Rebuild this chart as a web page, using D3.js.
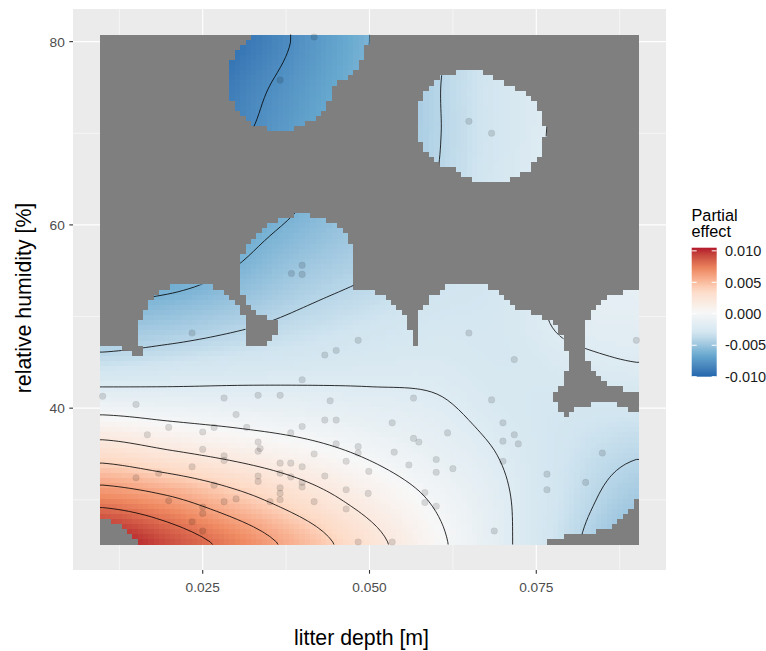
<!DOCTYPE html>
<html><head><meta charset="utf-8">
<script src="https://cdn.jsdelivr.net/npm/d3@7"></script>
<style>
body{margin:0;background:#fff}
svg{display:block}
text{font-family:"Liberation Sans",Arial,Helvetica,sans-serif}
</style>
</head><body>
<svg id="chart" width="766" height="651"></svg>
<script>
// ---- data ----
const gridDepth = [0.01, 0.02, 0.03, 0.04, 0.05, 0.06, 0.07, 0.08, 0.09];
const gridHumidity = [25, 30, 35, 40, 45, 50, 55, 60, 65, 70, 75, 80];
const effect25 = [0.0110, 0.0092, 0.0074, 0.0052, 0.0027, 0.0004, -0.0017, -0.0037, -0.0055];
const effect30 = [0.0073, 0.0063, 0.0047, 0.0030, 0.0013, -0.0002, -0.0018, -0.0034, -0.0047];
const effect35 = [0.0032, 0.0023, 0.0015, 0.0007, -0.0002, -0.0011, -0.0021, -0.0032, -0.0039];
const effect40 = [-0.0005, -0.0008, -0.0010, -0.0012, -0.0015, -0.0018, -0.0025, -0.0029, -0.0030];
const effect45 = [-0.0035, -0.0032, -0.0029, -0.0027, -0.0025, -0.0024, -0.0027, -0.0023, -0.0020];
const effect50 = [-0.0054, -0.0051, -0.0045, -0.0038, -0.0033, -0.0029, -0.0027, -0.0017, -0.0015];
const effect55 = [-0.0072, -0.0068, -0.0059, -0.0048, -0.0041, -0.0034, -0.0028, -0.0018, -0.0012];
const effect60 = [-0.0088, -0.0078, -0.0067, -0.0057, -0.0047, -0.0037, -0.0027, -0.0017, -0.0009];
const effect65 = [-0.0100, -0.0088, -0.0075, -0.0063, -0.0051, -0.0040, -0.0027, -0.0016, -0.0007];
const effect70 = [-0.0111, -0.0097, -0.0083, -0.0069, -0.0055, -0.0041, -0.0028, -0.0016, -0.0006];
const effect75 = [-0.0118, -0.0104, -0.0087, -0.0073, -0.0058, -0.0041, -0.0028, -0.0017, -0.0007];
const effect80 = [-0.0120, -0.0107, -0.0093, -0.0077, -0.0060, -0.0042, -0.0029, -0.0018, -0.0008];
const effectRows = [effect25, effect30, effect35, effect40, effect45, effect50, effect55, effect60, effect65, effect70, effect75, effect80];

const pointDepth = [0.0366,0.0417,0.0649,0.0683,0.0383,0.0399,0.0399,
 0.0234,0.0483,0.0450,0.0433,0.0399,0.0100,0.0282,0.0333,0.0366,0.0150,0.0441,0.0300,0.0199,0.0250,
 0.0267,0.0316,0.0399,0.0433,0.0450,0.0167,0.0382,0.0333,0.0336,0.0333,0.0250,0.0282,0.0282,0.0450,
 0.0483,0.0483,0.0417,0.0465,0.0366,0.0382,0.0399,0.0234,0.0184,0.0150,0.0333,0.0333,0.0366,0.0382,
 0.0399,0.0399,0.0433,0.0267,0.0366,0.0366,0.0366,0.0351,0.0300,0.0282,0.0199,0.0417,0.0465,0.0498,
 0.0465,0.0250,0.0250,0.0234,0.0250,0.0483,0.0649,0.0900,0.0717,0.0566,0.0683,0.0534,0.0617,0.0566,
 0.0574,0.0700,0.0717,0.0700,0.0723,0.0537,0.0600,0.0559,0.0625,0.0600,0.0700,0.0499,0.0583,0.0583,
 0.0600,0.0766,0.0766,0.0849,0.0824,0.0687,0.0534];
const pointHumidity = [75.8,80.5,71.3,70.0,54.7,55.6,54.6,
 48.2,47.4,46.3,45.8,43.1,41.3,41.1,41.4,41.4,40.4,40.8,39.3,37.9,37.4,
 37.9,37.9,38.0,38.7,38.7,37.1,37.3,36.3,35.6,35.3,35.5,34.8,34.3,36.1,
 35.8,35.1,35.0,34.2,34.0,34.0,33.6,33.6,32.9,32.4,32.6,32.0,32.9,32.5,
 31.9,31.4,32.6,31.6,31.3,30.7,30.0,29.8,30.1,29.8,29.9,29.8,31.1,30.7,
 29.0,29.2,28.5,27.6,26.6,25.4,48.2,47.4,45.3,41.1,40.9,38.4,37.3,36.7,
 36.3,38.4,37.1,36.4,36.1,35.2,34.4,33.8,33.4,33.0,34.2,33.1,30.8,29.7,
 29.3,32.8,31.1,35.1,31.9,26.6,25.4];

const xTicks = [0.025, 0.050, 0.075];
const xTickLabels = ["0.025", "0.050", "0.075"];
const yTicks = [40, 60, 80];
const yTickLabels = ["40", "60", "80"];
const legendTicks = [0.010, 0.005, 0.000, -0.005, -0.010];
const legendTickLabels = ["0.010", "0.005", "0.000", "-0.005", "-0.010"];
const fillLimits = [-0.0100, 0.0105];
const contourLevels = [-0.008, -0.006, -0.004, -0.002, 0, 0.002, 0.004, 0.006, 0.008];
const palette = ["#2166AC", "#67A9CF", "#D1E5F0", "#F7F7F7", "#FDDBC7", "#EF8A62", "#B2182B"];
const tooFar = 0.1;
const nGrid = 100;

// ---- layout ----
const svg = d3.select("#chart");
const P = {l: 73, r: 666, t: 9, b: 570};
const xExt = d3.extent(pointDepth), yExt = d3.extent(pointHumidity);
const dx = (xExt[1] - xExt[0]) / (nGrid - 1), dy = (yExt[1] - yExt[0]) / (nGrid - 1);
const rx = [xExt[0] - dx / 2, xExt[1] + dx / 2], ry = [yExt[0] - dy / 2, yExt[1] + dy / 2];
const ex = (rx[1] - rx[0]) * 0.05, ey = (ry[1] - ry[0]) * 0.05;
const x = d3.scaleLinear().domain([rx[0] - ex, rx[1] + ex]).range([P.l, P.r]);
const y = d3.scaleLinear().domain([ry[0] - ey, ry[1] + ey]).range([P.b, P.t]);

const color = d3.scaleLinear()
  .domain(palette.map((_, i) => fillLimits[0] + i * (fillLimits[1] - fillLimits[0]) / (palette.length - 1)))
  .range(palette).interpolate(d3.interpolateLab).clamp(true);

// smooth surface from the read grid
function cr(p0, p1, p2, p3, t) {
  return p1 + 0.5 * t * (p2 - p0 + t * (2 * p0 - 5 * p1 + 4 * p2 - p3 + t * (3 * (p1 - p2) + p3 - p0)));
}
function surf(xv, yv) {
  const nc = gridDepth.length, nr = gridHumidity.length;
  let u = (xv - gridDepth[0]) / (gridDepth[1] - gridDepth[0]);
  let v = (yv - gridHumidity[0]) / (gridHumidity[1] - gridHumidity[0]);
  u = Math.max(0, Math.min(nc - 1, u)); v = Math.max(0, Math.min(nr - 1, v));
  const i = Math.min(nc - 2, Math.floor(u)), j = Math.min(nr - 2, Math.floor(v));
  const tu = u - i, tv = v - j;
  const g = (jj, ii) => effectRows[Math.max(0, Math.min(nr - 1, jj))][Math.max(0, Math.min(nc - 1, ii))];
  const r = [];
  for (let k = -1; k <= 2; k++) r.push(cr(g(j + k, i - 1), g(j + k, i), g(j + k, i + 1), g(j + k, i + 2), tu));
  return cr(r[0], r[1], r[2], r[3], tv);
}
function tooFarAway(xv, yv) {
  const sx = xExt[1] - xExt[0], sy = yExt[1] - yExt[0];
  let m = Infinity;
  for (let k = 0; k < pointDepth.length; k++) {
    const a = (xv - pointDepth[k]) / sx, b = (yv - pointHumidity[k]) / sy;
    const d = a * a + b * b;
    if (d < m) m = d;
  }
  return Math.sqrt(m) > tooFar;
}

const cells = [];
for (let r = 0; r < nGrid; r++) {
  for (let c = 0; c < nGrid; c++) {
    const xv = xExt[0] + c * dx, yv = yExt[1] - r * dy;
    const masked = tooFarAway(xv, yv);
    cells.push({xv, yv, val: surf(xv, yv), masked});
  }
}

// ---- panel ----
svg.append("rect").attr("x", P.l).attr("y", P.t).attr("width", P.r - P.l).attr("height", P.b - P.t).attr("fill", "#EBEBEB");
const xMinor = [0.0125, 0.0375, 0.0625, 0.0875], yMinor = [30, 50, 70];
svg.append("g").selectAll("line").data(xMinor).join("line")
  .attr("x1", d => x(d)).attr("x2", d => x(d)).attr("y1", P.t).attr("y2", P.b)
  .attr("stroke", "#fff").attr("stroke-width", 0.55);
svg.append("g").selectAll("line").data(yMinor).join("line")
  .attr("y1", d => y(d)).attr("y2", d => y(d)).attr("x1", P.l).attr("x2", P.r)
  .attr("stroke", "#fff").attr("stroke-width", 0.55);
svg.append("g").selectAll("line").data(xTicks).join("line")
  .attr("x1", d => x(d)).attr("x2", d => x(d)).attr("y1", P.t).attr("y2", P.b)
  .attr("stroke", "#fff").attr("stroke-width", 1.1);
svg.append("g").selectAll("line").data(yTicks).join("line")
  .attr("y1", d => y(d)).attr("y2", d => y(d)).attr("x1", P.l).attr("x2", P.r)
  .attr("stroke", "#fff").attr("stroke-width", 1.1);

// ---- raster ----
svg.append("g").attr("shape-rendering", "crispEdges").selectAll("rect").data(cells).join("rect")
  .attr("x", d => x(d.xv - dx / 2)).attr("y", d => y(d.yv + dy / 2))
  .attr("width", d => x(d.xv + dx / 2) - x(d.xv - dx / 2) + 0.3)
  .attr("height", d => y(d.yv - dy / 2) - y(d.yv + dy / 2) + 0.3)
  .attr("fill", d => d.masked ? "#7F7F7F" : color(d.val));

// ---- contours ----
const np = nGrid + 2;
const padded = new Array(np * np);
for (let r = 0; r < np; r++) for (let c = 0; c < np; c++) {
  padded[r * np + c] = surf(xExt[0] + (c - 1) * dx, yExt[1] - (r - 1) * dy);
}
const contours = d3.contours().size([np, np]).smooth(true).thresholds(contourLevels)(padded);
const proj = d3.geoTransform({
  point: function (gx, gy) {
    this.stream.point(x(xExt[0] + (gx - 1.5) * dx), y(yExt[1] - (gy - 1.5) * dy));
  }
});
const gpath = d3.geoPath(proj);
let clipD = "";
cells.forEach(d => {
  if (d.masked) return;
  const x0 = x(d.xv - dx / 2), x1 = x(d.xv + dx / 2), y0 = y(d.yv + dy / 2), y1 = y(d.yv - dy / 2);
  clipD += `M${x0},${y0}H${x1}V${y1}H${x0}Z`;
});
svg.append("defs").append("clipPath").attr("id", "vis").append("path").attr("d", clipD);
svg.append("g").attr("clip-path", "url(#vis)").selectAll("path").data(contours).join("path")
  .attr("d", gpath).attr("fill", "none").attr("stroke", "#000").attr("stroke-width", 0.9)
  .attr("stroke-opacity", 0.9);

// ---- points ----
svg.append("g").selectAll("circle").data(pointDepth.map((d, i) => [d, pointHumidity[i]])).join("circle")
  .attr("cx", d => x(d[0])).attr("cy", d => y(d[1])).attr("r", 3.3)
  .attr("fill", "#000").attr("fill-opacity", 0.13)
  .attr("stroke", "#000").attr("stroke-opacity", 0.08).attr("stroke-width", 0.7);

// ---- axes ----
const ax = svg.append("g");
ax.selectAll("line.xt").data(xTicks).join("line").attr("class", "xt")
  .attr("x1", d => x(d)).attr("x2", d => x(d)).attr("y1", P.b).attr("y2", P.b + 3.7)
  .attr("stroke", "#333").attr("stroke-width", 1.1);
ax.selectAll("text.xl").data(xTicks).join("text").attr("class", "xl")
  .attr("x", d => x(d)).attr("y", 591.5).attr("text-anchor", "middle")
  .attr("font-size", 13.7).attr("fill", "#4D4D4D").text((d, i) => xTickLabels[i]);
ax.selectAll("line.yt").data(yTicks).join("line").attr("class", "yt")
  .attr("y1", d => y(d)).attr("y2", d => y(d)).attr("x1", P.l - 3.7).attr("x2", P.l)
  .attr("stroke", "#333").attr("stroke-width", 1.1);
ax.selectAll("text.yl").data(yTicks).join("text").attr("class", "yl")
  .attr("x", 64.8).attr("y", d => y(d) + 5).attr("text-anchor", "end")
  .attr("font-size", 13.7).attr("fill", "#4D4D4D").text((d, i) => yTickLabels[i]);
svg.append("text").attr("x", 361.5).attr("y", 645).attr("text-anchor", "middle")
  .attr("font-size", 21.3).attr("fill", "#000").text("litter depth [m]");
svg.append("text").attr("transform", "translate(30.5,298) rotate(-90)").attr("text-anchor", "middle")
  .attr("font-size", 21.3).attr("fill", "#000").text("relative humidity [%]");

// ---- legend ----
const lg = svg.append("g");
lg.append("text").attr("x", 691.5).attr("y", 220.7).attr("font-size", 16.3).attr("fill", "#000").text("Partial");
lg.append("text").attr("x", 691.5).attr("y", 237).attr("font-size", 16.3).attr("fill", "#000").text("effect");
const barL = 691.7, barW = 25, barTop = 247.7, barBot = 376.7;
const ly = d3.scaleLinear().domain(fillLimits).range([barBot, barTop]);
const grad = svg.select("defs").append("linearGradient").attr("id", "lgrad")
  .attr("x1", 0).attr("y1", 1).attr("x2", 0).attr("y2", 0);
grad.selectAll("stop").data(d3.range(0, 1.0001, 0.05)).join("stop")
  .attr("offset", d => d).attr("stop-color", d => color(fillLimits[0] + d * (fillLimits[1] - fillLimits[0])));
lg.append("rect").attr("x", barL).attr("y", barTop).attr("width", barW).attr("height", barBot - barTop).attr("fill", "url(#lgrad)");
lg.selectAll("line.tl").data(legendTicks).join("line").attr("class", "tl")
  .attr("x1", barL).attr("x2", barL + 5).attr("y1", d => ly(d)).attr("y2", d => ly(d))
  .attr("stroke", "#fff").attr("stroke-width", 1);
lg.selectAll("line.tr").data(legendTicks).join("line").attr("class", "tr")
  .attr("x1", barL + barW - 5).attr("x2", barL + barW).attr("y1", d => ly(d)).attr("y2", d => ly(d))
  .attr("stroke", "#fff").attr("stroke-width", 1);
lg.selectAll("text.ll").data(legendTicks).join("text").attr("class", "ll")
  .attr("x", 725).attr("y", d => ly(d) + 5.2).attr("font-size", 14.5).attr("fill", "#1A1A1A")
  .text((d, i) => legendTickLabels[i]);
</script>
</body></html>
